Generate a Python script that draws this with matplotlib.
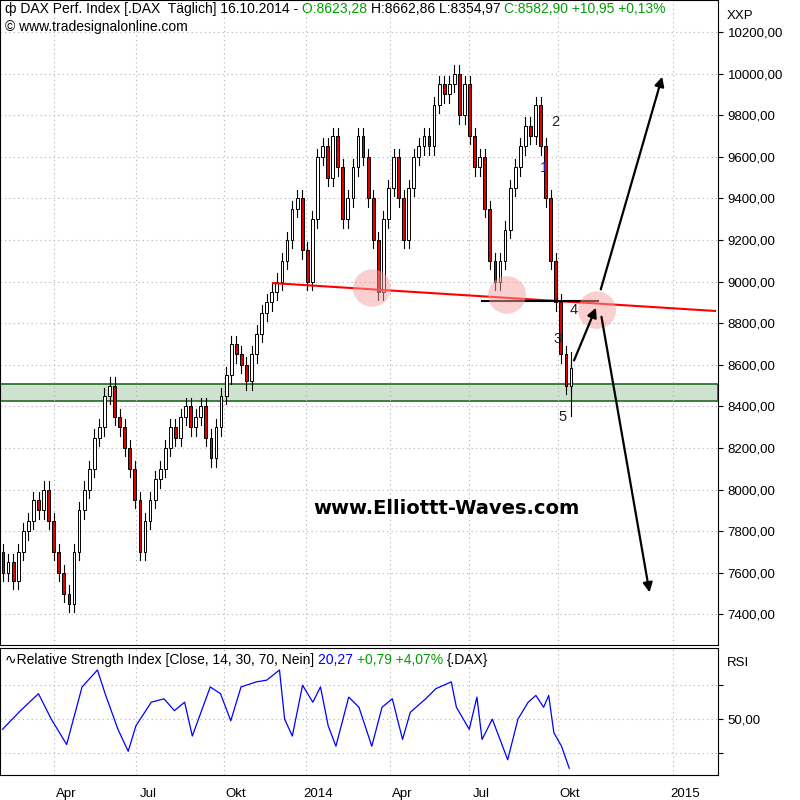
import numpy as np
import matplotlib.pyplot as plt
from matplotlib.patches import Ellipse, Rectangle
from matplotlib.transforms import offset_copy

plt.rcParams['font.family'] = ['Liberation Sans', 'DejaVu Sans']

# closes, roughly every 3 trading days, Mar 2013 - 16.10.2014
closes = [7600, 7650, 7560, 7700, 7800, 7850, 7950, 7900, 8000, 7850, 7700, 7600,
          7500, 7450, 7700, 7900, 8000, 8100, 8250, 8300, 8450, 8500, 8350, 8300,
          8200, 8100, 7950, 7700, 7850, 7950, 8050, 8100, 8200, 8300, 8250, 8350,
          8400, 8300, 8350, 8400, 8250, 8150, 8300, 8450, 8550, 8700, 8650, 8600,
          8520, 8650, 8750, 8850, 8900, 8950, 9000, 9100, 9200, 9350, 9400, 9150,
          9000, 9300, 9600, 9650, 9500, 9700, 9550, 9300, 9400, 9550, 9700, 9600,
          9400, 9200, 8950, 9300, 9450, 9600, 9400, 9200, 9450, 9600, 9650, 9700,
          9650, 9850, 9950, 9900, 9950, 10000, 9800, 9950, 9700, 9550, 9600, 9350,
          9100, 9000, 9100, 9250, 9450, 9550, 9650, 9750, 9700, 9850, 9650, 9400,
          9100, 8900, 8650, 8500, 8583]
first_open = 7700
rsi = [44, 55, 65, 50, 35, 69, 79, 65, 44, 31, 46, 60, 62, 55, 60, 40, 69, 65, 49,
       69, 72, 73, 79, 50, 40, 70, 60, 69, 46, 34, 63, 57, 34, 57, 62, 38, 54, 62,
       68, 72, 57, 44, 63, 38, 50, 26, 50, 60, 64, 57, 64, 42, 34, 21]
rsi_zx = [5, 40, 75, 100, 130, 160, 190, 205, 230, 250, 265, 295, 320, 340, 360, 375,
          410, 430, 450, 470, 500, 520, 545, 555, 570, 590, 610, 625, 640, 655, 680,
          700, 725, 745, 765, 785, 800, 830, 850, 880, 890, 915, 930, 940, 960, 990,
          1010, 1030, 1045, 1060, 1070, 1080, 1095, 1110]
tick_pos = [54, 136, 224, 306, 390, 469, 558, 673]
tick_labels = ['Apr', 'Jul', 'Okt', '2014', 'Apr', 'Jul', 'Okt', '2015']


def text_run(fig, axis, x, y, pieces, size=10):
    # draw coloured pieces one after another on one line
    trans = axis.transData
    for s, col in pieces:
        t = axis.text(x, y, s, color=col, fontsize=size, va='center', transform=trans)
        fig.canvas.draw()
        w = t.get_window_extent().width
        trans = offset_copy(trans, x=w, y=0, units='dots', fig=fig)


fig = plt.figure(figsize=(8, 8), dpi=100)
ax = fig.add_axes([0.0, 1 - 645 / 800, 718 / 800, 645 / 800])
ax2 = fig.add_axes([0.0, 1 - 775 / 800, 718 / 800, 127 / 800])

n = len(closes)
xs = np.linspace(3, 571, n)
opens = [first_open] + closes[:-1]
for x, o, c in zip(xs, opens, closes):
    hi, lo = max(o, c) + 40, min(o, c) - 40
    ax.plot([x, x], [lo, hi], color='black', lw=0.8, zorder=3)
    fc = 'white' if c >= o else '#e00000'
    ax.add_patch(Rectangle((x - 1.4, min(o, c)), 2.8, max(abs(c - o), 8), fc=fc, ec='black', lw=0.7, zorder=4))
ax.plot([571, 571], [8355, 8663], color='black', lw=0.8, zorder=3)

ax.axhspan(8425, 8510, fc='#cfe2cf', ec='#1f6a1f', lw=1.2, zorder=1)
ax.plot([273, 715], [8993, 8859], color='#ff0000', lw=1.5, zorder=5)
ax.plot([482, 598], [8907, 8907], color='black', lw=1.5, zorder=5)
for cx, cy in [(372, 8969), (507, 8936), (597, 8863)]:
    ax.add_patch(Ellipse((cx, cy), 38, 180, fc='#f4a0a0', alpha=0.5, ec='none', zorder=6))
for (x0, y0), (x1, y1) in [((573, 8609), (597, 8887)), ((600, 8950), (663, 9998)), ((601, 8844), (650, 7493))]:
    ax.annotate('', xy=(x1, y1), xytext=(x0, y0),
                arrowprops=dict(arrowstyle='-|>', color='black', lw=1.6, mutation_scale=14), zorder=7)
for t, x, y, c in [('2', 555, 9767, '#222222'), ('1', 544, 9546, '#2020a0'), ('4', 574, 8863, '#222222'),
                   ('3', 558, 8724, '#222222'), ('5', 563, 8349, '#222222')]:
    ax.text(x, y, t, color=c, fontsize=10.5, ha='center', va='center', zorder=8)
ax.text(446, 7911, 'www.Elliottt-Waves.com', fontsize=14, fontweight='bold', ha='center', va='center',
        family='DejaVu Sans')

ax.set_xlim(0, 718)
ax.set_ylim(7253, 10354)
ax.yaxis.tick_right()
yt = np.arange(7400, 10201, 200)
ax.set_yticks(yt)
ax.set_yticklabels([f'{v:.2f}'.replace('.', ',') for v in yt], fontsize=9.5)
ax.set_xticks(tick_pos)
ax.set_xticklabels([])
ax.grid(True, color='#b0b0b0', ls=(0, (1, 3)), lw=0.8)
ax.tick_params(axis='x', length=0)
ax.text(1.012, 0.985, 'XXP', transform=ax.transAxes, fontsize=9.5, va='top')
text_run(fig, ax, 5, 10310, [('\u0444 DAX Perf. Index [.DAX  T\u00e4glich] 16.10.2014 - ', 'black'),
                             ('O:8623,28 ', '#00a000'), ('H:8662,86 L:8354,97 ', 'black'),
                             ('C:8582,90 +10,95 +0,13%', '#00a000')])
ax.text(5, 10225, '\u00a9 www.tradesignalonline.com', fontsize=10, va='center')

ax2.plot(np.array(rsi_zx) / 1.95, rsi, color='#0000ff', lw=0.9)
ax2.set_xlim(0, 718)
ax2.set_ylim(17, 92)
ax2.yaxis.tick_right()
ax2.set_yticks([30, 50, 70])
ax2.set_yticklabels(['', '50,00', ''], fontsize=9.5)
ax2.set_xticks(tick_pos)
ax2.set_xticklabels([])
for p, l in zip(tick_pos, tick_labels):
    ax2.text(p + 12, -0.1, l, transform=ax2.get_xaxis_transform(), fontsize=9.5, ha='center', va='top')
ax2.grid(True, color='#b0b0b0', ls=(0, (1, 3)), lw=0.8)
ax2.tick_params(axis='x', length=0)
ax2.text(1.012, 0.93, 'RSI', transform=ax2.transAxes, fontsize=9.5, va='top')
text_run(fig, ax2, 5, 85, [('\u223fRelative Strength Index [Close, 14, 30, 70, Nein] ', 'black'),
                           ('20,27 ', '#0000ff'), ('+0,79 +4,07% ', '#00a000'), ('{.DAX}', 'black')])

fig.savefig('out.png', dpi=100)
